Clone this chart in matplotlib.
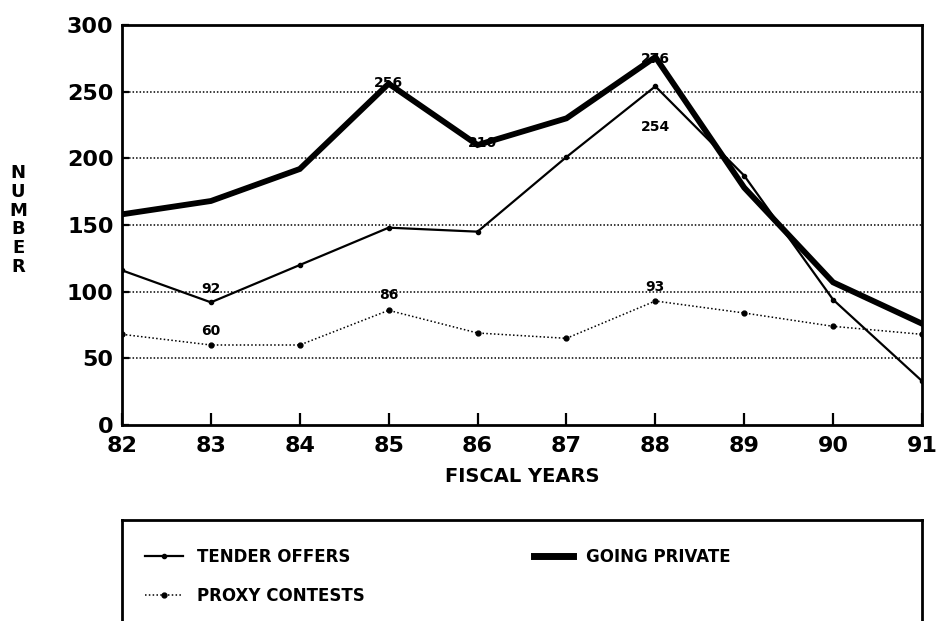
import numpy as np
import matplotlib.pyplot as plt
from matplotlib.lines import Line2D

# data
years = ['82', '83', '84', '85', '86', '87', '88', '89', '90', '91']
tender_offers = [116, 92, 120, 148, 145, 201, 254, 187, 94, 33]
going_private = [158, 168, 192, 256, 210, 230, 276, 178, 107, 76]
proxy_contests = [68, 60, 60, 86, 69, 65, 93, 84, 74, 68]

plt.rcParams['font.family'] = 'DejaVu Sans'
plt.rcParams['font.weight'] = 'bold'

fig = plt.figure(figsize=(9.38, 6.21), dpi=100)
ax = fig.add_axes([122/938, 1 - 425/621, 800/938, 400/621])

x = np.arange(len(years))
ax.plot(x, going_private, color='black', lw=4.2, solid_joinstyle='miter', zorder=3)
ax.plot(x, tender_offers, color='black', lw=1.6, marker='o', ms=3, zorder=4)
ax.plot(x, proxy_contests, color='black', lw=1.1, ls=(0, (1, 1.5)), marker='o', ms=3.5, zorder=4)

# grid
for g in [50, 100, 150, 200, 250]:
    ax.axhline(g, color='black', lw=1.1, ls=(0, (1, 1.3)), zorder=1)

ax.set_xlim(0, len(years) - 1)
ax.set_ylim(0, 300)
ax.set_xticks(x)
ax.set_xticklabels(years)
ax.set_yticks([0, 50, 100, 150, 200, 250, 300])
ax.tick_params(axis='x', direction='in', length=9, width=1.6, labelsize=16, pad=8)
ax.tick_params(axis='y', direction='in', length=5, width=1.6, labelsize=16, pad=6)
for s in ax.spines.values():
    s.set_linewidth(2)

# value labels
labels = [
    (3, 251, '256'), (4.05, 206, '210'), (6, 269, '276'),
    (6, 218, '254'), (1, 97, '92'), (3, 92, '86'),
    (1, 65, '60'), (6, 98, '93'),
]
for xi, yi, t in labels:
    ax.text(xi, yi, t, ha='center', va='bottom', fontsize=10, fontweight='bold', zorder=5)

ax.set_xlabel('FISCAL YEARS', fontsize=14, fontweight='bold', labelpad=8)
fig.text(18/938, 1 - 220/621, 'N\nU\nM\nB\nE\nR', ha='center', va='center',
         fontsize=13, fontweight='bold', linespacing=1.05)

# legend box, bottom edge runs off the page
lax = fig.add_axes([122/938, -0.05, 800/938, (621-520)/621 + 0.05])
lax.set_xticks([])
lax.set_yticks([])
lax.spines['bottom'].set_visible(False)
for s in ['top', 'left', 'right']:
    lax.spines[s].set_linewidth(2)

handles = [
    Line2D([], [], color='black', lw=1.6, marker='o', ms=3, markevery=[1]),
    Line2D([], [], color='black', lw=1.1, ls=(0, (1, 1.5)), marker='o', ms=3.5, markevery=[1]),
    Line2D([], [], color='black', lw=5),
]
names = ['TENDER OFFERS', 'PROXY CONTESTS', 'GOING PRIVATE']
lax.legend(handles, names, ncol=2, loc='upper left', frameon=False,
           bbox_to_anchor=(0.01, 0.90), handlelength=2.3, columnspacing=10.2,
           labelspacing=1.25, prop={'size': 12, 'weight': 'bold'})

fig.savefig('out.png', dpi=100)
